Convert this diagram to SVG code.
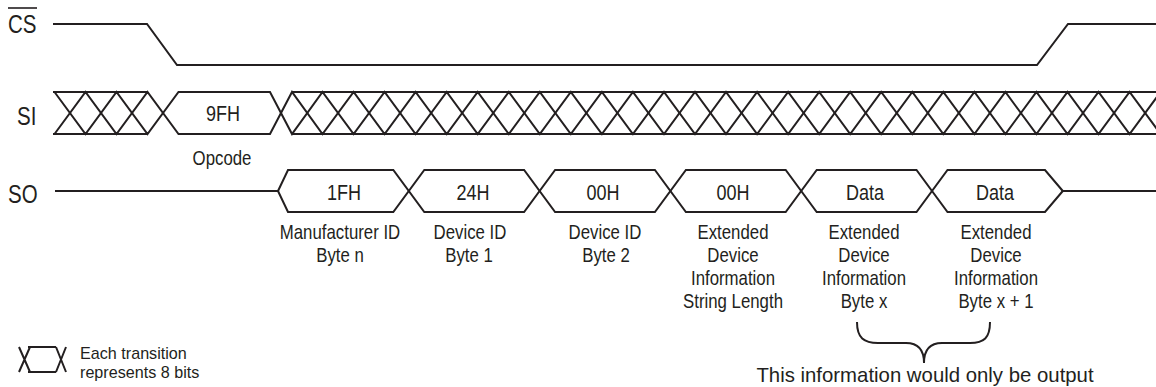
<svg xmlns="http://www.w3.org/2000/svg" width="1156" height="387" viewBox="0 0 1156 387">
<style>
.w{fill:none;stroke:#231f20;stroke-width:2;stroke-linejoin:miter}
.t{font-family:"Liberation Sans",Arial,sans-serif;fill:#231f20;text-anchor:middle}
.sig{font-size:25px;text-anchor:start}
.box{font-size:22px}
.lab{font-size:20.5px}
.leg{font-size:17px;text-anchor:start}
.note{font-size:21px}
</style>
<rect width="1156" height="387" fill="#fff"/>
<g id="labels">
<text class="t sig" transform="translate(8,33) scale(0.82,1)">CS</text>
<line x1="8" y1="8" x2="37" y2="8" stroke="#231f20" stroke-width="1.6"/>
<text class="t sig" transform="translate(17,125) scale(0.82,1)">SI</text>
<text class="t sig" transform="translate(8,203) scale(0.82,1)">SO</text>
</g>
<g id="connectors">
<path id="cs" class="w" d="M53,24 H147 L177,65 H1037 L1068,24 H1156"/>
<g id="si">
<path class="w" d="M53,92 H147 M53,134 H147"/>
<path class="w" d="M54.5,92 L85.5,134 L116.5,92 L147.5,134 L178.5,92 H270 L292,134 L322.5,92 L353.6,134 L384.6,92 L415.6,134 L446.7,92 L477.7,134 L508.8,92 L539.8,134 L570.8,92 L601.9,134 L632.9,92 L664,134 L695,92 L726,134 L757.1,92 L788.1,134 L819.2,92 L850.2,134 L881.2,92 L912.3,134 L943.3,92 L974.4,134 L1005.4,92 L1036.4,134 L1067.5,92 L1098.5,134 L1129.6,92 L1160.6,134"/>
<path class="w" d="M54.5,134 L85.5,92 L116.5,134 L147.5,92 L178.5,134 H270 L292,92 L322.5,134 L353.6,92 L384.6,134 L415.6,92 L446.7,134 L477.7,92 L508.8,134 L539.8,92 L570.8,134 L601.9,92 L632.9,134 L664,92 L695,134 L726,92 L757.1,134 L788.1,92 L819.2,134 L850.2,92 L881.2,134 L912.3,92 L943.3,134 L974.4,92 L1005.4,134 L1036.4,92 L1067.5,134 L1098.5,92 L1129.6,134 L1160.6,92"/>
<path class="w" d="M292,92 H1156 M292,134 H1156"/>
</g>
<g id="so">
<path class="w" d="M55,191 H278 M1062.8,191 H1156"/>
<path class="w" d="M278,191 L288,170 H393.3 L424.3,212 H524.1 L555.1,170 H654.9 L685.9,212 H785.7 L816.7,170 H916.5 L947.5,212 H1045 L1062.8,191"/>
<path class="w" d="M278,191 L288,212 H393.3 L424.3,170 H524.1 L555.1,212 H654.9 L685.9,170 H785.7 L816.7,212 H916.5 L947.5,170 H1045 L1062.8,191"/>
</g>
<path id="brace" class="w" d="M857,322 C857,338 864,343 878,343 H906 C918,343 924,350 924,363 C924,350 930,343 942,343 H970 C984,343 990,338 990,322"/>
</g>
<g id="node-opcode">
<text class="t box" transform="translate(223,121) scale(0.82,1)">9FH</text>
<text class="t lab" transform="translate(222,165) scale(0.82,1)">Opcode</text>
</g>
<g id="node-mfr">
<text class="t box" transform="translate(344,200) scale(0.82,1)">1FH</text>
<text class="t lab" transform="translate(340,239) scale(0.82,1)">Manufacturer ID</text>
<text class="t lab" transform="translate(340,262) scale(0.82,1)">Byte n</text>
</g>
<g id="node-dev1">
<text class="t box" transform="translate(473,200) scale(0.82,1)">24H</text>
<text class="t lab" transform="translate(470,239) scale(0.82,1)">Device ID</text>
<text class="t lab" transform="translate(469,262) scale(0.82,1)">Byte 1</text>
</g>
<g id="node-dev2">
<text class="t box" transform="translate(603,200) scale(0.82,1)">00H</text>
<text class="t lab" transform="translate(605,239) scale(0.82,1)">Device ID</text>
<text class="t lab" transform="translate(606,262) scale(0.82,1)">Byte 2</text>
</g>
<g id="node-len">
<text class="t box" transform="translate(733,200) scale(0.82,1)">00H</text>
<text class="t lab" transform="translate(733,239) scale(0.82,1)">Extended</text>
<text class="t lab" transform="translate(733,262) scale(0.82,1)">Device</text>
<text class="t lab" transform="translate(733,285) scale(0.82,1)">Information</text>
<text class="t lab" transform="translate(733,308) scale(0.82,1)">String Length</text>
</g>
<g id="node-bytex">
<text class="t box" transform="translate(865,200) scale(0.82,1)">Data</text>
<text class="t lab" transform="translate(864,239) scale(0.82,1)">Extended</text>
<text class="t lab" transform="translate(864,262) scale(0.82,1)">Device</text>
<text class="t lab" transform="translate(864,285) scale(0.82,1)">Information</text>
<text class="t lab" transform="translate(864,308) scale(0.82,1)">Byte x</text>
</g>
<g id="node-bytex1">
<text class="t box" transform="translate(995,200) scale(0.82,1)">Data</text>
<text class="t lab" transform="translate(996,239) scale(0.82,1)">Extended</text>
<text class="t lab" transform="translate(996,262) scale(0.82,1)">Device</text>
<text class="t lab" transform="translate(996,285) scale(0.82,1)">Information</text>
<text class="t lab" transform="translate(996,308) scale(0.82,1)">Byte x + 1</text>
</g>
<g id="note">
<text class="t note" transform="translate(925,382) scale(0.97,1)">This information would only be output</text>
</g>
<g id="legend">
<path class="w" d="M19,347 L30,372 M19,372 L30,347 M28,347 H56 M28,372 H56 M56,347 L66,372 M56,372 L66,347"/>
<text class="t leg" transform="translate(80,359) scale(0.95,1)">Each transition</text>
<text class="t leg" transform="translate(80,378) scale(0.95,1)">represents 8 bits</text>
</g>
</svg>
